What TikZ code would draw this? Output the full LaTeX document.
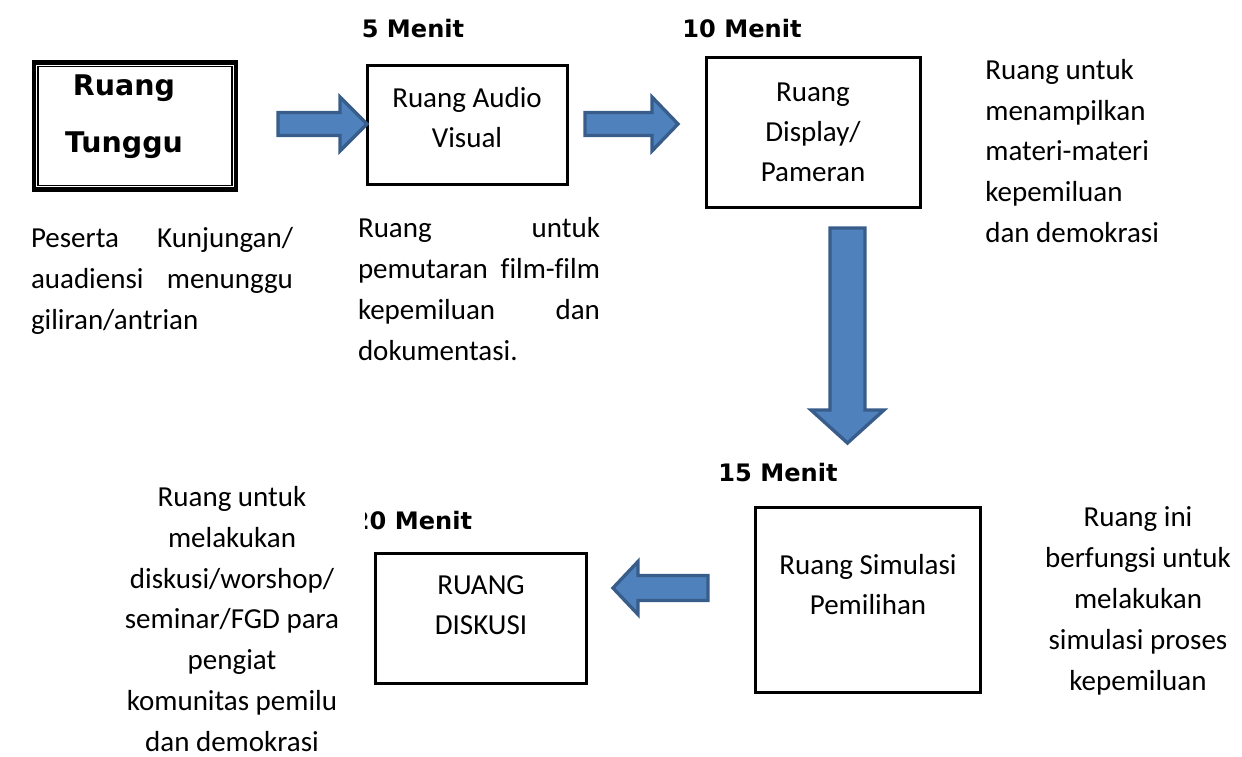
\documentclass[tikz,border=0pt]{standalone}
\usepackage{fontspec}
\setmainfont{Carlito}[Ligatures={TeX,NoCommon}]
\newfontfamily\tahoma{DejaVu Sans}
\definecolor{arrowfill}{HTML}{4F81BD}
\definecolor{arrowline}{HTML}{385D8A}

\tikzset{
	roombox/.style={draw, line width=1.7pt, inner sep=0pt},
	roomtext/.style={align=center, inner sep=0pt, font=\fontsize{16.5}{22.8}\selectfont},
	desctext/.style={inner sep=0pt, font=\fontsize{16.5}{23.3}\selectfont},
	timetext/.style={inner sep=0pt, font=\tahoma\bfseries\fontsize{13.7}{16}\selectfont},
	blockarrow/.style={fill=arrowfill, draw=arrowline, line width=1.9pt}
}

% #1 tail, #2 angle, #3 length, #4 head length, #5 shaft half, #6 head half
\newcommand{\blockarrow}[6]{
	\begin{scope}[shift={(#1)},rotate=#2]
		\filldraw[blockarrow] (0,-#5) -- ({#3-#4},-#5) -- ({#3-#4},-#6) -- (#3,0)
			-- ({#3-#4},#6) -- ({#3-#4},#5) -- (0,#5) -- cycle;
	\end{scope}
}

\begin{document}
\begin{tikzpicture}[x=0.02cm,y=-0.02cm]

	\useasboundingbox (0,0) rectangle (1242,757);

	% rooms
	\node[draw, line width=2.3pt, minimum width=4.04cm, minimum height=2.54cm] (tunggu) at (135,126) {};
	\draw[line width=0.9pt] ([shift={(6,6)}]tunggu.north west) rectangle ([shift={(-6,-6)}]tunggu.south east);
	\node[roombox, minimum width=4.02cm, minimum height=2.4cm] (audio) at (467.5,125) {};
	\node[roombox, minimum width=4.3cm, minimum height=3.02cm] (display) at (813.5,132.5) {};
	\node[roombox, minimum width=4.52cm, minimum height=3.72cm] (simulasi) at (868,600) {};
	\node[roombox, minimum width=4.24cm, minimum height=2.62cm] (diskusi) at (481,618.5) {};

	\node[align=center, inner sep=0pt, font=\tahoma\bfseries\fontsize{16.2}{32.4}\selectfont] (tungguT) at (124,117) {Ruang\\Tunggu};
	\node[roomtext] (audioT) at (467,118) {Ruang Audio\\Visual};
	\node[roomtext] (displayT) at (813,132) {Ruang\\Display/\\Pameran};
	\node[roomtext] (simulasiT) at (868,585) {Ruang Simulasi\\Pemilihan};
	\node[roomtext] (diskusiT) at (481,605) {RUANG\\DISKUSI};

	% times
	\node[timetext] (t5) at (413,29) {5 Menit};
	\node[timetext] (t10) at (742,29) {10 Menit};
	\node[timetext] (t15) at (778,473) {15 Menit};
	\begin{scope}
		\clip (365,500) rectangle (490,545);
		\node[timetext] (t20) at (412.5,521) {20 Menit};
	\end{scope}

	% notes
	\node[desctext, text width=5.24cm, align=justify] (tungguD) at (162,281)
		{Peserta Kunjungan/\linebreak auadiensi menunggu\linebreak giliran/antrian};
	\node[desctext, text width=4.84cm, align=justify] (audioD) at (479,289)
		{Ruang untuk\linebreak pemutaran film-film\linebreak kepemiluan dan\linebreak dokumentasi.};
	\node[desctext, align=left, anchor=west] (displayD) at (985,151)
		{Ruang untuk\\menampilkan\\materi-materi\\kepemiluan\\dan demokrasi};
	\node[desctext, align=center] (simulasiD) at (1138,601)
		{Ruang ini\\berfungsi untuk\\melakukan\\simulasi proses\\kepemiluan};
	\node[desctext, align=center] (diskusiD) at (232,619)
		{Ruang untuk\\melakukan\\diskusi/worshop/\\seminar/FGD para\\pengiat\\komunitas pemilu\\dan demokrasi};

	% arrows
	\coordinate (arrA) at (278,124);
	\coordinate (arrB) at (585,124);
	\coordinate (arrC) at (847.5,228);
	\coordinate (arrD) at (708,588);
	\blockarrow{arrA}{0}{89}{27}{11.5}{27}
	\blockarrow{arrB}{0}{93}{26}{11.5}{27}
	\blockarrow{arrC}{-90}{215}{33}{17.5}{36.5}
	\blockarrow{arrD}{180}{95}{25}{12.5}{26.5}

\end{tikzpicture}
\end{document}
